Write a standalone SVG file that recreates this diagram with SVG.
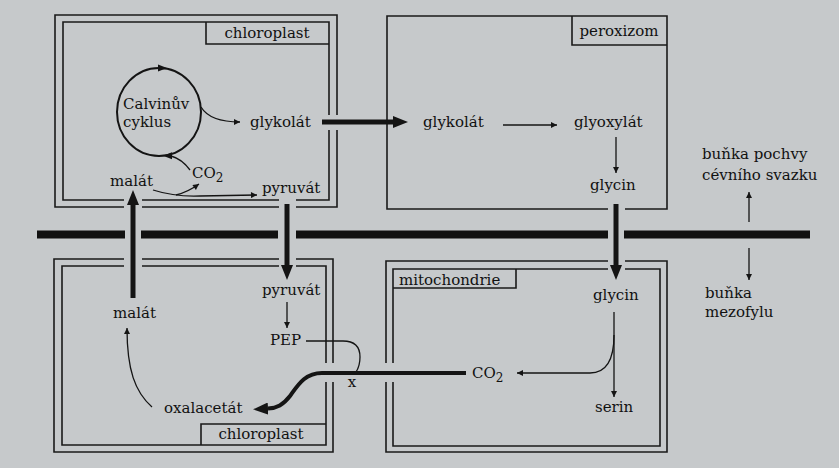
<svg xmlns="http://www.w3.org/2000/svg" width="839" height="468" viewBox="0 0 839 468">
<defs>
<marker id="ah" viewBox="0 0 10 10" refX="10" refY="5" markerWidth="9" markerHeight="6" markerUnits="userSpaceOnUse" orient="auto"><path d="M0,0 L10,5 L0,10 z" fill="#141414"/></marker>
<marker id="ahT" viewBox="0 0 15 12" refX="0" refY="6" markerWidth="15" markerHeight="12" markerUnits="userSpaceOnUse" orient="auto"><path d="M0,0 L15,6 L0,12 z" fill="#141414"/></marker>
<style>
text{font-family:"DejaVu Serif","Liberation Serif",serif;font-size:15px;fill:#111}
.box{fill:none;stroke:#1a1a1a;stroke-width:1.6}
.thin{fill:none;stroke:#141414;stroke-width:1.3}
.thick{fill:none;stroke:#141414;stroke-width:5}
.mid{fill:none;stroke:#141414;stroke-width:4}
.bar{fill:#111}
</style>
</defs>
<rect width="839" height="468" fill="#c6c9cb"/>

<g id="cell-boundary">
<rect class="bar" x="37" y="230.5" width="88" height="8"/>
<rect class="bar" x="141" y="230.5" width="137" height="8"/>
<rect class="bar" x="296" y="230.5" width="312" height="8"/>
<rect class="bar" x="624" y="230.5" width="186" height="8"/>
</g>

<g id="chloroplast-top">
<path class="box" d="M124,207 L55,207 L55,15 L337,15 L337,115 M337,130 L337,207 L296,207 M279,207 L142,207"/>
<path class="box" d="M124,200 L63,200 L63,22 L329,22 L329,115 M329,130 L329,200 L296,200 M279,200 L142,200"/>
<path class="box" d="M206,22 L206,44 L329,44"/>
<text x="267" y="38" text-anchor="middle">chloroplast</text>
</g>

<g id="peroxizom">
<path class="box" d="M608,209 L387,209 L387,16 L667,16 L667,209 L625,209"/>
<path class="box" d="M572,16 L572,45 L667,45"/>
<text x="619" y="36" text-anchor="middle">peroxizom</text>
</g>

<g id="chloroplast-bottom">
<path class="box" d="M124,259 L54,259 L54,452 L333,452 L333,382 M333,363 L333,259 L296,259 M279,259 L142,259"/>
<path class="box" d="M124,266 L62,266 L62,445 L326,445 L326,382 M326,363 L326,266 L296,266 M279,266 L142,266"/>
<path class="box" d="M201,445 L201,424 L326,424"/>
<text x="261" y="439" text-anchor="middle">chloroplast</text>
</g>

<g id="mitochondrie">
<path class="box" d="M608,261 L386,261 L386,363 M386,382 L386,452 L667,452 L667,261 L625,261"/>
<path class="box" d="M608,269 L393,269 L393,363 M393,382 L393,446 L660,446 L660,269 L625,269"/>
<path class="box" d="M393,288 L516,288 L516,269"/>
<text x="399" y="285">mitochondrie</text>
</g>

<g id="calvin-cycle">
<ellipse cx="159" cy="112" rx="42" ry="44" fill="none" stroke="#141414" stroke-width="2"/>
<path d="M167,68 L158,64.5 L158,71.5 z" fill="#141414"/>
<path d="M163,155.8 L172,152.3 L172,159.3 z" fill="#141414"/>
<text x="123" y="109">Calvinův</text>
<text x="123" y="127">cyklus</text>
</g>

<g id="glykolat-chl"><text x="250" y="127">glykolát</text></g>
<g id="co2-chl"><text x="192" y="178">CO<tspan font-size="12" dy="4">2</tspan></text></g>
<g id="malat-top"><text x="110" y="186">malát</text></g>
<g id="pyruvat-top"><text x="262" y="193">pyruvát</text></g>
<g id="glykolat-per"><text x="423" y="127">glykolát</text></g>
<g id="glyoxylat"><text x="574" y="127">glyoxylát</text></g>
<g id="glycin-per"><text x="590" y="190">glycin</text></g>
<g id="malat-bottom"><text x="113" y="318">malát</text></g>
<g id="oxalacetat"><text x="164" y="413">oxalacetát</text></g>
<g id="pyruvat-bottom"><text x="262" y="295">pyruvát</text></g>
<g id="pep"><text x="270" y="345">PEP</text></g>
<g id="x-label"><text x="352" y="387" text-anchor="middle">x</text></g>
<g id="co2-mit"><text x="472" y="378">CO<tspan font-size="12" dy="4">2</tspan></text></g>
<g id="glycin-mit"><text x="593" y="300">glycin</text></g>
<g id="serin"><text x="595" y="412">serin</text></g>
<g id="bundle-sheath-label"><text x="702" y="159">buňka pochvy</text><text x="702" y="180">cévního svazku</text></g>
<g id="mesophyll-label"><text x="705" y="298">buňka</text><text x="705" y="317">mezofylu</text></g>

<g id="connectors">
<path class="thin" d="M201,107 Q210,122 240,122" marker-end="url(#ah)"/>
<path class="thin" d="M190,170 Q182,159 171,156"/>
<path class="thin" d="M153,190 Q175,197 200,196 L257,195" marker-end="url(#ah)"/>
<path class="thin" d="M176,195 Q188,192 199,184" marker-end="url(#ah)"/>
<path class="thick" d="M322,122 L393,122" marker-end="url(#ahT)"/>
<path class="thick" d="M287,204 L287,265" marker-end="url(#ahT)"/>
<path class="thick" d="M133,298 L133,205" marker-end="url(#ahT)"/>
<path class="thick" d="M616,204 L616,265" marker-end="url(#ahT)"/>
<path class="thin" d="M503,125 L557,125" marker-end="url(#ah)"/>
<path class="thin" d="M616,137 L616,173" marker-end="url(#ah)"/>
<path class="thin" d="M152,407 C135,392 127,370 127,328" marker-end="url(#ah)"/>
<path class="thin" d="M287,302 L287,328" marker-end="url(#ah)"/>
<path class="thin" d="M306,341 L343,341 Q360,341 360,357 Q360,366 356,372"/>
<path class="mid" d="M466,373 L322,373 C305,373 298,385 290,396 C283,405 277,408 268,408.5" marker-end="url(#ahT)"/>
<path class="thin" d="M614,312 L614,397" marker-end="url(#ah)"/>
<path class="thin" d="M614,335 Q614,373 590,373 L517,373" marker-end="url(#ah)"/>
<path class="thin" d="M749,222 L749,192" marker-end="url(#ah)"/>
<path class="thin" d="M749,248 L749,280" marker-end="url(#ah)"/>
</g>
</svg>
